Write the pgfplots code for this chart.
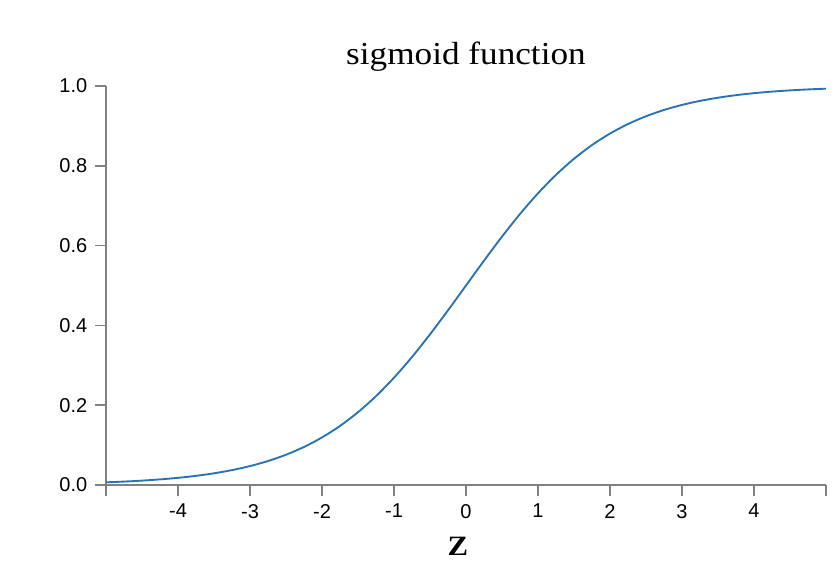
\documentclass[border=0pt]{standalone}
\usepackage{fontspec}
\setmainfont{Liberation Sans}
\newfontfamily\titlefont{Liberation Serif}[FakeStretch=1.1]
\usepackage{pgfplots}
\pgfplotsset{compat=1.18}
\definecolor{axgray}{RGB}{128,128,128}
\definecolor{curve}{RGB}{40,115,178}
\begin{document}
\begin{tikzpicture}[x=1pt,y=1pt]
\useasboundingbox (-79.5pt,-65.25pt) rectangle (550.5pt,363.75pt);
\begin{axis}[
  at={(0,0)}, anchor=south west,
  scale only axis, width=540pt, height=299.25pt,
  xmin=-5, xmax=5, ymin=0, ymax=1,
  axis x line*=bottom, axis y line*=left,
  axis line style={axgray, line width=1.25pt, -},
  every tick/.style={axgray, line width=1.25pt},
  tick align=outside, major tick length=8pt,
  xtick={-5,-4,-3,-2,-1,0,1,2,3,4,5},
  xticklabels={,-4,-3,-2,-1,0,1,2,3,4,},
  ytick={0,0.2,0.4,0.6,0.8,1.0},
  yticklabels={0.0,0.2,0.4,0.6,0.8,1.0},
  tick label style={font=\fontsize{15}{18}\selectfont, text=black},
  /pgf/number format/assume math mode=true,
  xticklabel style={yshift=-2.75pt},
  yticklabel style={xshift=-2.5pt},
  clip=false,
]
\addplot[curve, line width=1.4pt, smooth] coordinates {
(-5,0.00669) (-4.75,0.00858) (-4.5,0.01099) (-4.25,0.01406) (-4,0.01799)
(-3.75,0.02298) (-3.5,0.02931) (-3.25,0.03732) (-3,0.04743) (-2.75,0.06008)
(-2.5,0.07586) (-2.25,0.09535) (-2,0.11920) (-1.75,0.14805) (-1.5,0.18243)
(-1.25,0.22270) (-1,0.26894) (-0.75,0.32082) (-0.5,0.37754) (-0.25,0.43782)
(0,0.5) (0.25,0.56218) (0.5,0.62246) (0.75,0.67918) (1,0.73106)
(1.25,0.77730) (1.5,0.81757) (1.75,0.85195) (2,0.88080) (2.25,0.90465)
(2.5,0.92414) (2.75,0.93992) (3,0.95257) (3.25,0.96268) (3.5,0.97069)
(3.75,0.97702) (4,0.98201) (4.25,0.98594) (4.5,0.98901) (4.75,0.99142)
(5,0.99331)
};
\node[anchor=base, font=\titlefont\fontsize{24}{28}\selectfont] at (rel axis cs:0.5,1) [yshift=16pt] {sigmoid function};
\node[anchor=base, font=\titlefont\bfseries\fontsize{21}{24}\selectfont] at (rel axis cs:0.5,0) [yshift=-52.5pt, xshift=-6pt] {Z};
\end{axis}
\end{tikzpicture}
\end{document}
